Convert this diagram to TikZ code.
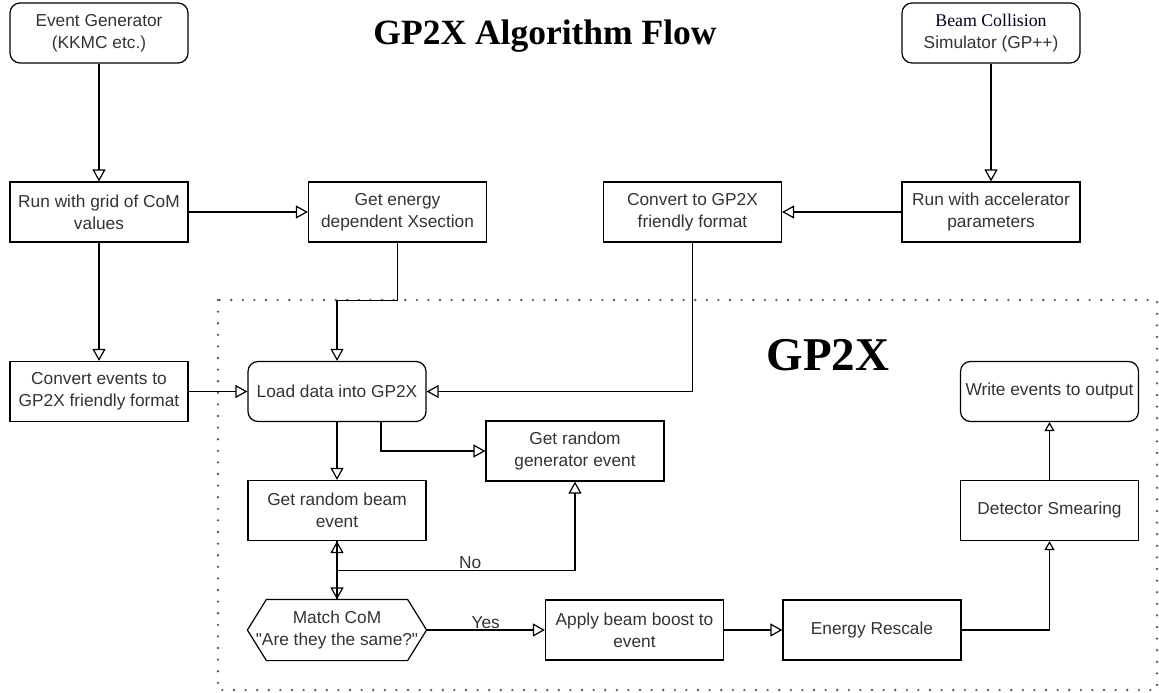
\documentclass[tikz,border=0pt]{standalone}
\usepackage{fontspec}
\setmainfont{Liberation Sans}
\newfontfamily\titlefont{Liberation Serif}
\newfontfamily\quotefont{Liberation Sans}
\usetikzlibrary{arrows.meta,positioning,calc}

\tikzset{
  box/.style={draw, line width=1.2pt, minimum width=178pt, minimum height=60pt,
    align=center, text=black!80, inner sep=1pt, font=\fontsize{17.3}{22}\selectfont},
  rbox/.style={box, rounded corners=10pt},
  arr/.style={-{Triangle[open, length=12pt, width=13pt]}, line width=1.2pt},
  arrs/.style={-{Triangle[open, length=9pt, width=10pt]}, line width=1.2pt},
  lbl/.style={text=black!80, font=\fontsize{17.3}{20}\selectfont, inner sep=1pt},
}

\begin{document}
\begin{tikzpicture}[x=1pt,y=-1pt]
  \useasboundingbox (0,0) rectangle (1159,693);
  % GP2X region
  \draw[black!65, line width=2.6pt, line cap=round, dash pattern=on 0pt off 11.6pt]
    (218,300) rectangle (1157,690);

  \node[font=\titlefont\bfseries\fontsize{35.5}{40}\selectfont] (title) at (545,36) {GP2X Algorithm Flow};
  \node[font=\titlefont\bfseries\fontsize{47}{50}\selectfont] (region) at (828,355) {GP2X};

  % inputs
  \node[rbox] (evgen) at (99,33) {Event Generator\\(KKMC etc.)};
  \node[rbox] (beamsim) at (991,33) {{\titlefont\fontsize{17.8}{21}\selectfont\color{black!90!blue}Beam Collision}\\Simulator (GP++)};

  \node[box] (rungrid) at (99,212) {Run with grid of CoM\\values};
  \node[box] (energy) at (397.5,212) {Get energy\\dependent Xsection};
  \node[box] (convgp) at (692.5,212) {Convert to GP2X\\friendly format};
  \node[box] (runacc) at (991,212) {Run with accelerator\\parameters};

  \node[box] (convev) at (99,391.5) {Convert events to\\GP2X friendly format};
  \node[rbox] (load) at (337,391.5) {Load data into GP2X};
  \node[box] (gen) at (575,451) {Get random\\generator event};
  \node[box] (beam) at (337,510.5) {Get random beam\\event};
  \node[box, draw=none] (match) at (337,630) {Match CoM\\{\quotefont"Are they the same?"}};
  \draw[line width=1.2pt] (match.west) -- ([xshift=19pt]match.north west) -- ([xshift=-19pt]match.north east)
    -- (match.east) -- ([xshift=-19pt]match.south east) -- ([xshift=19pt]match.south west) -- cycle;
  \node[box] (apply) at (634.5,630) {Apply beam boost to\\event};
  \node[box] (rescale) at (872,630) {Energy Rescale};
  \node[box] (smear) at (1049.5,510.5) {Detector Smearing};
  \node[rbox] (write) at (1049.5,391.5) {Write events to output};

  \draw[arr] (evgen) -- (rungrid);
  \draw[arr] (rungrid) -- (energy);
  \draw[arr] (rungrid) -- (convev);
  \draw[arr] (beamsim) -- (runacc);
  \draw[arr] (runacc) -- (convgp);
  \draw[arr] (energy.south) -- ++(0,58) -| (load.north);
  \draw[arr] (convgp.south) |- (load.east);
  \draw[arr] (convev) -- (load);
  \draw[arr] (load) -- (beam);
  \draw[arr] ([xshift=44pt]load.south) |- (gen.west);
  \draw[arr] (beam) -- (match);
  \draw[arr] (match) -- (beam);
  \coordinate (nojoin) at ($(beam.south)!0.5!(match.north)$);
  \draw[arr] (nojoin) -| node[lbl, pos=0.28, above] {No} (gen.south);
  \draw[arr] (match) -- node[lbl, above] {Yes} (apply);
  \draw[arr] (apply) -- (rescale);
  \draw[arrs] (rescale.east) -| (smear.south);
  \draw[arrs] (smear) -- (write);
\end{tikzpicture}
\end{document}
